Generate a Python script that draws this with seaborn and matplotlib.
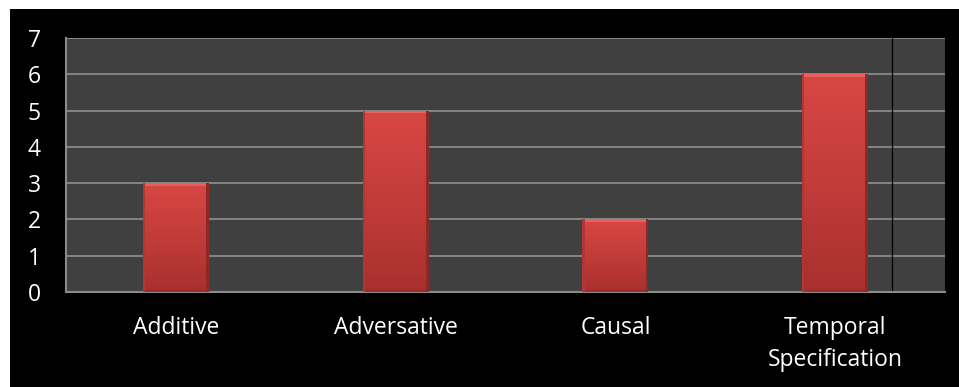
import matplotlib
matplotlib.use("Agg")
import matplotlib.pyplot as plt
import matplotlib.patches as mpatches
import numpy as np
import pandas as pd
import seaborn as sns

categories = ["Additive", "Adversative", "Causal", "Temporal\nSpecification"]
counts = [3, 5, 2, 6]
y_ticks = [0, 1, 2, 3, 4, 5, 6, 7]

df = pd.DataFrame({"category": categories, "count": counts})

sns.set_theme(style="dark")
plt.rcParams["font.family"] = ["Open Sans", "DejaVu Sans"]

fig = plt.figure(figsize=(9.59, 3.87), dpi=100, facecolor="white")
# black canvas behind the chart
fig.patches.append(mpatches.Rectangle((10 / 959, 0), 1, 1 - 9 / 387,
                                      transform=fig.transFigure,
                                      facecolor="black", edgecolor="none", zorder=-1))
ax = fig.add_axes([66 / 959, 1 - 292 / 387, (945 - 66) / 959, (292 - 38) / 387])
ax.set_facecolor("#404040")

sns.barplot(data=df, x="category", y="count", color="#c94040", width=0.30,
            saturation=1, ax=ax, zorder=3, edgecolor="none")

ax.set_ylim(0, 7)
ax.set_xlim(-0.5, 3.5)
ax.set_yticks(y_ticks)
ax.set_yticklabels([str(t) for t in y_ticks])
for y in y_ticks[1:]:
    ax.axhline(y, color="#8a8a8a", lw=1.3, zorder=1)
ax.axvline(3.26, color="black", lw=0.9, zorder=2)

# shaded fill on each bar
grad = np.linspace(0, 1, 256).reshape(-1, 1)
cmap = matplotlib.colors.LinearSegmentedColormap.from_list(
    "barred", ["#a8302e", "#c23c3a", "#d84744"])
for p in list(ax.patches):
    x0, y0 = p.get_x(), p.get_y()
    w, h = p.get_width(), p.get_height()
    im = ax.imshow(grad, extent=(x0, x0 + w, y0, y0 + h), origin="lower",
                   cmap=cmap, aspect="auto", zorder=4)
    im.set_clip_path(p)
    # lighter bevel on top, darker edges on sides and base
    ax.add_patch(mpatches.Rectangle((x0, y0 + h - 0.08), w, 0.08,
                                    facecolor="#e3625e", edgecolor="none", zorder=5))
    ax.add_patch(mpatches.Rectangle((x0, y0), w, 0.07,
                                    facecolor="#9e2e2c", edgecolor="none", zorder=5))
    ax.add_patch(mpatches.Rectangle((x0 + w - 0.012, y0), 0.012, h,
                                    facecolor="#8e2826", edgecolor="none", zorder=5))
    ax.add_patch(mpatches.Rectangle((x0, y0), 0.01, h,
                                    facecolor="#b23634", edgecolor="none", zorder=5))
ax.set_xlim(-0.5, 3.5)
ax.set_ylim(0, 7)
ax.set_aspect("auto")

for side in ["top", "right"]:
    ax.spines[side].set_visible(False)
for side in ["left", "bottom"]:
    ax.spines[side].set_visible(True)
    ax.spines[side].set_color("#8a8a8a")
    ax.spines[side].set_linewidth(1.5)

ax.set_xlabel("")
ax.set_ylabel("")
ax.tick_params(axis="x", colors="white", labelsize=16.5, pad=17, length=0)
ax.tick_params(axis="y", colors="white", labelsize=16.5, pad=18, length=0)
for lbl in ax.get_xticklabels():
    lbl.set_linespacing(1.45)
ax.grid(False)

fig.savefig("out.png", dpi=100, facecolor=fig.get_facecolor())
